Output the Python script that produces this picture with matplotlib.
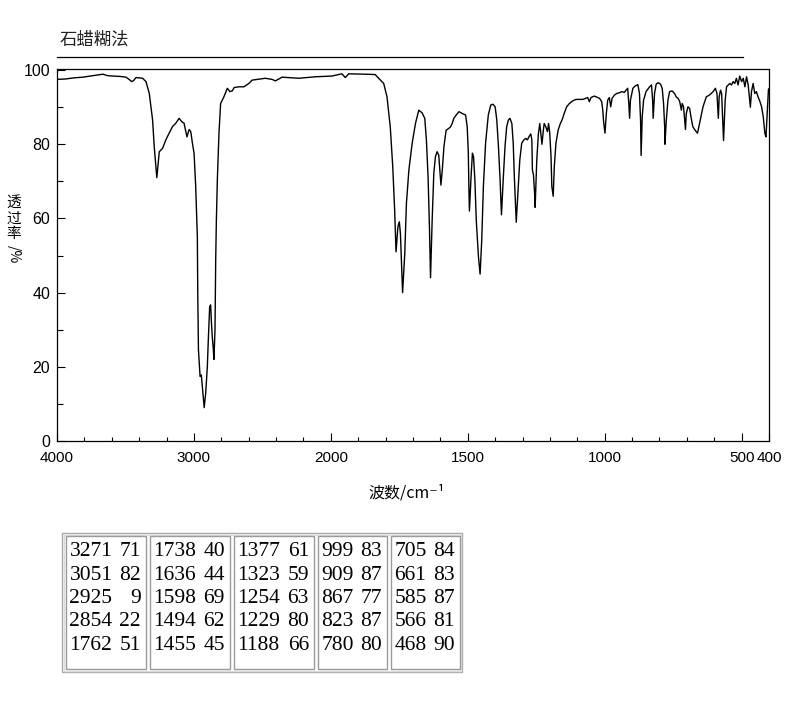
import numpy as np
import matplotlib
matplotlib.use("Agg")
import matplotlib.pyplot as plt
from matplotlib.patches import Rectangle
from matplotlib.lines import Line2D

plt.rcParams['font.family'] = ['Noto Sans CJK SC', 'DejaVu Sans']

title = "石蜡糊法"
xlabel = "波数/cm⁻¹"
ylabel_chars = ["透", "过", "率"]
ylabel_unit = "/%"

# spectrum (wavenumber cm-1, transmittance %)
wavenumber = [
    4000, 3940, 3880, 3811, 3740, 3665, 3630, 3593, 3540, 3496, 3470, 3455, 3440,
    3423, 3375, 3350, 3326, 3302, 3290, 3271, 3263, 3253, 3229, 3205, 3181, 3156,
    3132, 3108, 3089, 3072, 3051, 3035, 3023, 3011, 2999, 2987, 2975, 2972, 2967,
    2955, 2946, 2933, 2925, 2914, 2902, 2895, 2885, 2878, 2873, 2866, 2858, 2854,
    2846, 2841, 2836, 2829, 2817, 2805, 2781, 2756, 2737, 2720, 2706, 2672, 2635,
    2599, 2575, 2538, 2478, 2429, 2405, 2356, 2235, 2114, 1996, 1960, 1947, 1935,
    1874, 1838, 1819, 1807, 1795, 1783, 1774, 1767, 1762, 1755, 1750, 1746, 1740,
    1738, 1730, 1724, 1715, 1703, 1691, 1679, 1667, 1657, 1651, 1645, 1640, 1636,
    1630, 1624, 1618, 1612, 1606, 1602, 1598, 1593, 1587, 1579, 1569, 1563, 1557,
    1551, 1542, 1532, 1520, 1508, 1502, 1498, 1496, 1494, 1488, 1483, 1479, 1474,
    1469, 1461, 1455, 1449, 1443, 1435, 1425, 1416, 1408, 1400, 1394, 1388, 1382,
    1377, 1370, 1364, 1358, 1352, 1346, 1339, 1334, 1330, 1323, 1317, 1310, 1303,
    1295, 1288, 1282, 1276, 1270, 1266, 1264, 1260, 1256, 1254, 1248, 1242, 1237,
    1229, 1224, 1221, 1215, 1209, 1205, 1201, 1196, 1193, 1188, 1184, 1178, 1170,
    1162, 1156, 1148, 1139, 1129, 1117, 1105, 1080, 1062, 1056, 1050, 1038, 1019,
    1011, 1007, 1004, 999, 994, 989, 983, 978, 973, 964, 956, 946, 938, 928, 922,
    916, 912, 909, 906, 897, 889, 879, 873, 869, 867, 863, 858, 849, 836, 829, 825,
    823, 818, 812, 805, 796, 790, 785, 781, 780, 775, 769, 763, 754, 745, 739, 732,
    726, 720, 717, 712, 705, 702, 696, 690, 684, 678, 668, 661, 651, 641, 629, 617,
    604, 596, 590, 585, 582, 577, 573, 569, 566, 560, 555, 549, 543, 537, 531, 525,
    519, 513, 507, 500, 494, 488, 482, 476, 468, 464, 458, 452, 446, 440, 433, 427,
    421, 415, 411, 406, 402, 400,
]
transmittance = [
    97.5, 97.6, 97.9, 98.1, 98.5, 98.9, 98.5, 98.4, 98.3, 98.1, 97.4, 96.9, 97.2,
    98.0, 97.8, 96.9, 93.7, 86.6, 79.4, 71.0, 74.0, 78.0, 78.9, 81.2, 83.0, 84.8,
    85.7, 87.0, 86.1, 85.7, 82.0, 84.0, 83.4, 80.3, 77.6, 68.6, 55.1, 39.8, 24.6,
    17.4, 17.8, 12.4, 9.0, 12.9, 20.1, 27.2, 36.2, 36.7, 32.6, 28.1, 24.6, 22.0,
    30.0, 48.8, 59.6, 70.4, 83.0, 91.0, 92.8, 95.1, 94.2, 94.4, 95.3, 95.5, 95.5,
    96.4, 97.3, 97.5, 97.8, 97.5, 97.1, 98.1, 97.8, 98.2, 98.4, 99.0, 98.0, 99.0,
    98.9, 98.8, 97.3, 96.4, 92.8, 84.7, 74.0, 62.3, 51.0, 57.8, 59.1, 56.0, 44.3,
    40.0, 50.6, 64.1, 73.1, 80.3, 85.6, 89.2, 88.5, 87.0, 81.1, 71.3, 57.8, 44.0,
    59.6, 72.2, 76.7, 78.0, 77.1, 73.1, 69.0, 73.1, 79.4, 83.8, 84.3, 84.7, 85.6,
    87.0, 87.9, 88.8, 88.3, 87.9, 84.7, 77.6, 68.6, 62.0, 71.3, 77.6, 76.7, 70.4,
    59.6, 49.7, 45.0, 54.2, 68.6, 80.3, 87.9, 90.6, 90.8, 90.1, 86.5, 79.4, 70.4,
    61.0, 71.3, 79.4, 84.7, 86.5, 87.0, 85.6, 80.3, 71.3, 59.0, 66.8, 75.8, 80.3,
    81.2, 81.6, 81.2, 82.1, 82.8, 81.2, 73.1, 71.7, 66.8, 63.0, 75.8, 82.9, 85.6,
    80.0, 83.8, 85.6, 84.7, 83.4, 85.6, 83.4, 76.7, 68.6, 66.0, 74.0, 80.3, 83.8,
    85.6, 86.5, 88.3, 90.1, 91.0, 91.7, 92.1, 92.1, 92.6, 91.5, 92.6, 93.0, 92.4,
    91.5, 89.2, 86.1, 83.0, 88.3, 91.9, 92.6, 90.1, 92.4, 93.3, 93.7, 93.9, 94.2, 94.0, 94.6,
    95.1, 91.0, 87.0, 91.9, 95.1, 95.7, 96.1, 93.7, 86.5, 77.0, 87.4, 91.9, 94.2, 95.5, 96.0, 91.9,
    87.0, 93.7, 96.2, 96.6, 96.2, 95.1, 91.0, 84.7, 80.0, 86.5, 91.9, 94.2, 94.4, 93.7, 92.8, 92.4,
    91.5, 89.2, 91.0, 90.1, 84.0, 88.3, 90.1, 89.7, 87.0, 84.7, 83.6, 83.0, 86.5, 90.1, 92.8, 93.3,
    94.2, 95.1, 93.7, 87.0, 92.8, 94.6, 93.7, 86.5, 81.0, 91.9, 95.5, 96.0, 96.4, 96.0, 96.9, 96.4,
    97.8, 96.0, 98.4, 96.9, 97.8, 95.5, 98.2, 96.0, 90.0, 94.2, 96.4, 93.7, 94.2, 92.8, 91.5, 90.1,
    87.4, 82.9, 82.0, 89.2, 94.8, 95.0,
]

# peak table (wavenumber, transmittance)
peak_wn = [3271, 3051, 2925, 2854, 1762,
           1738, 1636, 1598, 1494, 1455,
           1377, 1323, 1254, 1229, 1188,
           999, 909, 867, 823, 780,
           705, 661, 585, 566, 468]
peak_t = [71, 82, 9, 22, 51,
          40, 44, 69, 62, 45,
          61, 59, 63, 80, 66,
          83, 87, 77, 87, 80,
          84, 83, 87, 81, 90]

xticks = [4000, 3000, 2000, 1500, 1000, 500, 400]
yticks = [0, 20, 40, 60, 80, 100]

W, H = 794, 709


def fx(px):
    return px / W


def fy(py):
    return 1 - py / H


def fwd(w):
    w = np.asarray(w, dtype=float)
    return np.where(w > 2000, 2000 + (w - 2000) * 0.5, w)


def inv(u):
    u = np.asarray(u, dtype=float)
    return np.where(u > 2000, 2000 + (u - 2000) * 2.0, u)


fig = plt.figure(figsize=(W / 100, H / 100), dpi=100)
ax = fig.add_axes([fx(57), fy(441), fx(769) - fx(57), fy(69) - fy(441)])
ax.set_xscale('function', functions=(fwd, inv))
ax.plot(wavenumber, transmittance, color='black', lw=1.0)
ax.set_xlim(4000, 400)
ax.set_ylim(0, 100.3)

tick_font = ['Liberation Sans Narrow', 'Liberation Sans']
ax.set_xticks(xticks)
ax.set_xticklabels([str(t) for t in xticks], family=tick_font, fontsize=11)
minor_x = [t for t in list(range(3800, 2000, -200)) + list(range(1900, 400, -100)) if t not in xticks]
ax.set_xticks(minor_x, minor=True)
ax.set_yticks(yticks)
ax.set_yticklabels([str(t) for t in yticks], family=tick_font, fontsize=11.5)
ax.set_yticks([10, 30, 50, 70, 90], minor=True)
ax.tick_params(axis='both', which='both', direction='in', width=0.8)
ax.tick_params(axis='x', which='major', length=5.5, pad=7)
ax.tick_params(axis='x', which='minor', length=3)
ax.tick_params(axis='y', which='major', length=5.5, pad=5)
ax.tick_params(axis='y', which='minor', length=4.5)
for s in ax.spines.values():
    s.set_linewidth(0.9)

# title and rule
fig.text(fx(60), fy(40), title, fontsize=12.5, va='center', ha='left', color='#222222')
fig.add_artist(Line2D([fx(57), fx(743)], [fy(57), fy(57)], color='black', lw=0.9))

# vertical y label, one character per line
for ch, py in zip(ylabel_chars, [203, 219, 234]):
    fig.text(fx(13.5), fy(py), ch, fontsize=10.5, ha='center', va='center')
fig.text(fx(13.5), fy(254), ylabel_unit, fontsize=10, ha='center', va='center', rotation=270)
fig.text(fx(407), fy(493), xlabel, fontsize=11.5, ha='center', va='center')

# peak table
fig.add_artist(Rectangle((fx(62), fy(672)), fx(462) - fx(62), fy(533) - fy(672),
                         transform=fig.transFigure, fill=False, ec='#a8a8a8', lw=1.0))
fig.add_artist(Rectangle((fx(63.5), fy(670.5)), fx(460.5) - fx(63.5), fy(534.5) - fy(670.5),
                         transform=fig.transFigure, fill=False, ec='#dcdcdc', lw=1.0))
col_left = [64.5, 148.5, 232.5, 316.5, 389.5]
col_right = [146, 230, 314, 387, 460]
row_y = [551.7, 575, 598.3, 621.7, 645]
for c in range(5):
    fig.add_artist(Rectangle((fx(col_left[c] + 1), fy(669)), fx(col_right[c]) - fx(col_left[c] + 1),
                             fy(536) - fy(669), transform=fig.transFigure, fill=False,
                             ec='#9a9a9a', lw=1.0))
    for r in range(5):
        i = c * 5 + r
        fig.text(fx(col_left[c] + 5), fy(row_y[r]), str(peak_wn[i]), family='Liberation Serif',
                 fontsize=15.5, ha='left', va='center')
        fig.text(fx(col_right[c] - 5), fy(row_y[r]), str(peak_t[i]), family='Liberation Serif',
                 fontsize=15.5, ha='right', va='center')

fig.savefig("out.png", dpi=100)
